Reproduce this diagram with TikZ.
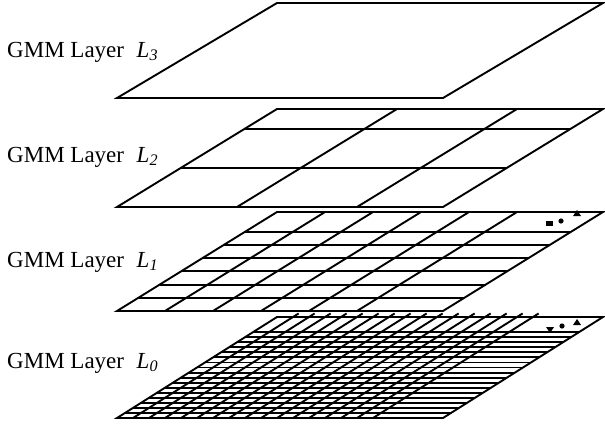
\documentclass[tikz,border=0pt]{standalone}
\usepackage{fontspec}
\setmainfont{Liberation Serif}
\usetikzlibrary{positioning,calc}

\tikzset{
  layerline/.style={line width=1.9pt, line join=miter},
  layerlabel/.style={anchor=base west, inner sep=0pt, font=\fontsize{23}{27}\selectfont},
}

\begin{document}
\begin{tikzpicture}[x=1pt, y=1pt]
    \def\wid{326}    % width of one layer
    \def\slant{160}  % shift of top edge to the right
    \useasboundingbox (0,0) rectangle (605,-426);

    % Layer L3 - plain sheet
    \begin{scope}[shift={(117,-98)}, x={(\wid pt,0pt)}, y={(\slant pt,95pt)}]
        \draw[layerline] (0,0) -- (1,0) -- (1,1) -- (0,1) -- cycle;
    \end{scope}

    % Layer L2 - coarse cells
    \begin{scope}[shift={(117,-207)}, x={(\wid pt,0pt)}, y={(\slant pt,98pt)}]
        \foreach \c in {120,240}
            \draw[layerline] (\c/\wid,0) -- (\c/\wid,1);
        \foreach \r in {0.4,0.8}
            \draw[layerline] (0,\r) -- (1,\r);
        \draw[layerline] (0,0) -- (1,0) -- (1,1) -- (0,1) -- cycle;
    \end{scope}

    % Layer L1 - 48 px cells
    \begin{scope}[shift={(117,-311)}, x={(\wid pt,0pt)}, y={(\slant pt,99pt)}]
        \foreach \c in {1,...,5}
            \draw[layerline] (\c*48/\wid,0) -- (\c*48/\wid,1);
        \foreach \r in {1,...,6}
            \draw[layerline] (0,\r*0.8/6) -- (1,\r*0.8/6);
        \draw[layerline] (0,0) -- (1,0) -- (1,1) -- (0,1) -- cycle;
    \end{scope}

    % Layer L0 - fine cells
    \begin{scope}[shift={(117,-418)}, x={(\wid pt,0pt)}, y={(\slant pt,101pt)}]
        \foreach \c in {1,...,16}
            \draw[layerline] (\c*16/\wid,0) -- (\c*16/\wid,1.035);
        \foreach \r in {1,...,17}
            \draw[layerline] (0,\r*0.05) -- (1,\r*0.05);
        \draw[layerline] (0,0) -- (1,0) -- (1,1) -- (0,1) -- cycle;
    \end{scope}

    % continuation marks
    \fill (546,-226) rectangle (553,-221);
    \fill (561,-221) circle (2.6);
    \fill (573,-216) -- (581,-216) -- (577,-210) -- cycle;
    \fill (546,-327) -- (554,-327) -- (550,-333) -- cycle;
    \fill (562,-326) circle (2.6);
    \fill (573,-325) -- (581,-325) -- (577,-319) -- cycle;

    % Labels
    \node[layerlabel] (lab3) at (7,-57)  {GMM Layer\hspace{0.55em}\textit{L}\textsubscript{\textit{3}}};
    \node[layerlabel] (lab2) at (7,-162) {GMM Layer\hspace{0.55em}\textit{L}\textsubscript{\textit{2}}};
    \node[layerlabel] (lab1) at (7,-267) {GMM Layer\hspace{0.55em}\textit{L}\textsubscript{\textit{1}}};
    \node[layerlabel] (lab0) at (7,-368) {GMM Layer\hspace{0.55em}\textit{L}\textsubscript{\textit{0}}};
\end{tikzpicture}
\end{document}
